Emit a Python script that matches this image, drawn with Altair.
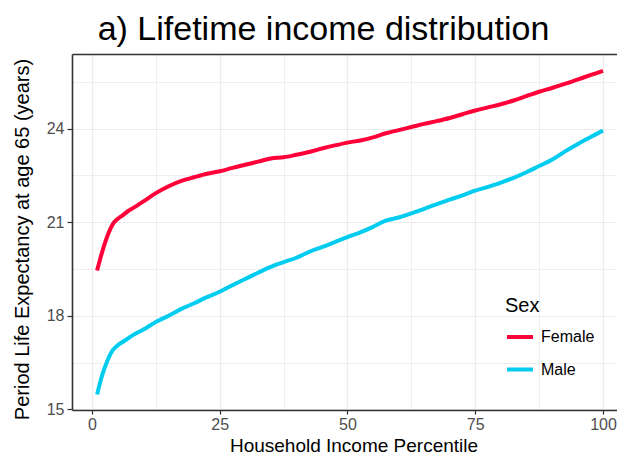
import altair as alt
import pandas as pd

# Household income percentile (x) and period life expectancy at 65 (years)
percentile = [1, 2, 3, 4, 5, 6, 7, 8, 10, 12.5, 15, 17.5, 20, 22.5, 25, 27.5, 30,
              32.5, 35, 37.5, 40, 42.5, 45, 47.5, 50, 52.5, 55, 57.5, 60, 62.5,
              65, 67.5, 70, 72.5, 75, 77.5, 80, 82.5, 85, 87.5, 90, 92.5, 95,
              97.5, 100]
female = [19.45, 20.05, 20.55, 20.92, 21.10, 21.22, 21.35, 21.45, 21.66, 21.93,
          22.15, 22.32, 22.44, 22.55, 22.63, 22.74, 22.84, 22.94, 23.04, 23.08,
          23.16, 23.25, 23.36, 23.46, 23.55, 23.62, 23.72, 23.85, 23.95, 24.05,
          24.15, 24.24, 24.34, 24.46, 24.58, 24.68, 24.78, 24.90, 25.04, 25.18,
          25.30, 25.43, 25.57, 25.71, 25.85]
male = [15.48, 16.10, 16.55, 16.88, 17.05, 17.16, 17.27, 17.38, 17.55, 17.80,
        18.00, 18.22, 18.40, 18.60, 18.77, 18.98, 19.18, 19.38, 19.57, 19.72,
        19.86, 20.05, 20.20, 20.36, 20.52, 20.67, 20.85, 21.05, 21.15, 21.28,
        21.43, 21.58, 21.72, 21.86, 22.01, 22.13, 22.27, 22.42, 22.60, 22.80,
        23.00, 23.26, 23.50, 23.72, 23.94]

sexes = ["Female", "Male"]
colors = ["#FF0038", "#00CCEF"]
x_grid = [0, 12.5, 25, 37.5, 50, 62.5, 75, 87.5, 100]
y_grid = [15, 16.5, 18, 19.5, 21, 22.5, 24, 25.5]

df = pd.DataFrame({
    "Percentile": percentile * 2,
    "Value": female + male,
    "Sex": ["Female"] * len(percentile) + ["Male"] * len(percentile),
})

FONT = "Liberation Sans"
BORDER = "#333333"

x_scale = alt.Scale(domain=[-3.91, 102.74], nice=False, zero=False)
y_scale = alt.Scale(domain=[14.98, 26.39], nice=False, zero=False)

x_axis = alt.Axis(
    values=x_grid,
    labelExpr="datum.value % 25 == 0 ? datum.label : ''",
    tickOpacity={"condition": {"test": "datum.value % 25 != 0", "value": 0}, "value": 1},
    gridWidth={"condition": {"test": "datum.value % 25 != 0", "value": 0.8}, "value": 1.2},
    gridColor="#EBEBEB",
    domain=True, domainColor=BORDER, domainWidth=1.6,
    tickColor=BORDER, tickSize=4, tickWidth=1.2,
    labelColor="#4D4D4D", labelFont=FONT, labelFontSize=16, labelPadding=2,
    labelFlush=False, labelOverlap=False,
    titleFont=FONT, titleFontSize=19, titleFontWeight="normal", titleColor="black",
    titleX=281.5, titleY=41, titleBaseline="alphabetic", titleAlign="center",
)

y_axis = alt.Axis(
    values=y_grid,
    labelExpr="datum.value % 3 == 0 ? datum.label : ''",
    tickOpacity={"condition": {"test": "datum.value % 3 != 0", "value": 0}, "value": 1},
    gridWidth={"condition": {"test": "datum.value % 3 != 0", "value": 0.8}, "value": 1.2},
    gridColor="#EBEBEB",
    domain=True, domainColor=BORDER, domainWidth=1.6,
    tickColor=BORDER, tickSize=5, tickWidth=1.2,
    labelColor="#4D4D4D", labelFont=FONT, labelFontSize=16, labelPadding=3,
    labelFlush=False, labelOverlap=False,
    titleFont=FONT, titleFontSize=20, titleFontWeight="normal", titleColor="black",
    titleX=-44, titleY=185, titleAngle=-90, titleBaseline="alphabetic", titleAlign="center",
)

legend = alt.Legend(
    orient="none", legendX=433, legendY=242, padding=0,
    title="Sex", titleFont=FONT, titleFontSize=20, titleFontWeight="normal",
    titleColor="black", titlePadding=6,
    labelFont=FONT, labelFontSize=16, labelColor="black", labelOffset=6,
    symbolType="stroke", symbolSize=676, symbolStrokeWidth=4, rowPadding=9.5,
)

lines = alt.Chart(df).mark_line(strokeWidth=4, interpolate="monotone", strokeCap="butt").encode(
    x=alt.X("Percentile:Q", title="Household Income Percentile", scale=x_scale, axis=x_axis),
    y=alt.Y("Value:Q", title="Period Life Expectancy at age 65 (years)", scale=y_scale, axis=y_axis),
    color=alt.Color("Sex:N", scale=alt.Scale(domain=sexes, range=colors), legend=legend),
)

# invisible layer that only carries the top panel border (a top x axis)
border = alt.Chart(df).mark_line(opacity=0).encode(
    x=alt.X("Percentile:Q", scale=x_scale,
            axis=alt.Axis(orient="top", labels=False, ticks=False, grid=False,
                          domain=True, domainColor=BORDER, domainWidth=1.6, title=None)),
    y=alt.Y("Value:Q", scale=y_scale, axis=None),
    detail="Sex:N",
)

chart = alt.layer(lines, border).resolve_axis(x="independent", y="independent").properties(
    width=545, height=356,
    autosize=alt.AutoSizeParams(type="none"),
    padding={"left": 64, "top": 46, "right": 0, "bottom": 45},
    title=alt.TitleParams(
        "a) Lifetime income distribution", font=FONT, fontSize=34,
        fontWeight="normal", color="black", anchor="middle", frame="group",
        dx=-21, dy=33, offset=13, baseline="alphabetic",
    ),
    background="white",
).configure_view(strokeWidth=0, strokeOpacity=0)

chart.save("out.html", embed_options={"renderer": "svg", "actions": False})
